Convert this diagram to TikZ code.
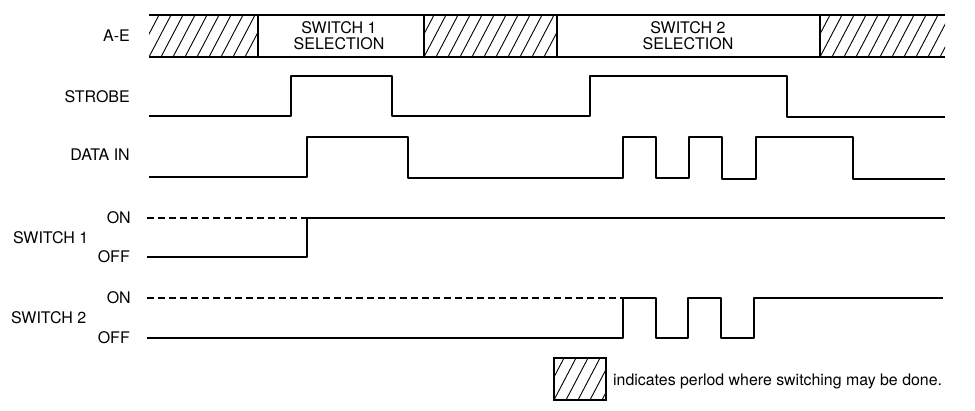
\documentclass[tikz,border=0pt]{standalone}
\usepackage{fontspec}
\setmainfont{TeX Gyre Heros}
\newcommand\myhatch[4]{%
  \begin{scope}
    \clip (#1,#2) rectangle (#3,#4);
    \foreach \k in {0,...,14} \draw[hatchline] ({#1-24+\k*12},#4) -- ++(22,-42);
  \end{scope}}
\begin{document}
\begin{tikzpicture}[x=1pt,y=-1pt,
  wave/.style={line width=2.4pt, line join=round},
  refline/.style={line width=1.2pt, dash pattern=on 7pt off 4pt},
  lbl/.style={font=\fontsize{16}{17}\selectfont, anchor=east, inner sep=0pt},
  boxlbl/.style={font=\fontsize{16}{16}\selectfont, align=center, inner sep=0pt},
  hatchline/.style={line width=0.9pt},
  frame/.style={line width=2.4pt}]
\useasboundingbox (0,0) rectangle (975,411);

% A-E bar
\myhatch{149}{15}{258}{57}
\myhatch{424}{15}{557}{57}
\myhatch{820}{15}{945}{57}
\draw[frame] (149,15) -- (945,15);
\draw[frame] (149,57) -- (945,57);
\foreach \xx in {258,424,557,820} \draw[frame] (\xx,15) -- (\xx,57);
\node[boxlbl] (s1sel) at (339,36) {SWITCH 1\\SELECTION};
\node[boxlbl] (s2sel) at (688,36) {SWITCH 2\\SELECTION};

% labels
\node[lbl] (ae) at (130,36) {A-E};
\node[lbl] (strobe) at (130,97) {STROBE};
\node[lbl] (datain) at (130,155) {DATA IN};
\node[lbl] (on1) at (131,218) {ON};
\node[lbl] (off1) at (130,257) {OFF};
\node[lbl, anchor=west] (sw1) at (13,238) {SWITCH 1};
\node[lbl] (on2) at (131,298) {ON};
\node[lbl] (off2) at (130,338) {OFF};
\node[lbl, anchor=west] (sw2) at (11,318) {SWITCH 2};

% STROBE
\draw[wave] (149,116) -- (291,116) -- (291,76) -- (392,76) -- (392,116)
  -- (590,116) -- (590,76) -- (787,76) -- (787,117) -- (945,117);

% DATA IN
\draw[wave] (149,177) -- (307,177) -- (307,137) -- (408,137) -- (408,178)
  -- (623,178) -- (623,137) -- (656,137) -- (656,178) -- (689,178)
  -- (689,137) -- (722,137) -- (722,179) -- (756,179) -- (756,137)
  -- (853,137) -- (853,179) -- (945,179);

% SWITCH 1
\draw[refline] (147,218) -- (307,218);
\draw[wave] (147,257) -- (307,257) -- (307,218) -- (945,218);

% SWITCH 2
\draw[refline] (147,298) -- (623,298);
\draw[wave] (147,338) -- (623,338) -- (623,298) -- (656,298) -- (656,338)
  -- (688,338) -- (688,298) -- (721,298) -- (721,338) -- (754,338)
  -- (754,298) -- (943,298);

% legend
\myhatch{554}{358}{606}{400}
\draw[line width=2pt] (554,358) rectangle (606,400);
\node[font=\fontsize{15.9}{17}\selectfont, anchor=west, inner sep=0pt] (legend) at (613,381) {indicates perlod where switching may be done.};
\end{tikzpicture}
\end{document}
